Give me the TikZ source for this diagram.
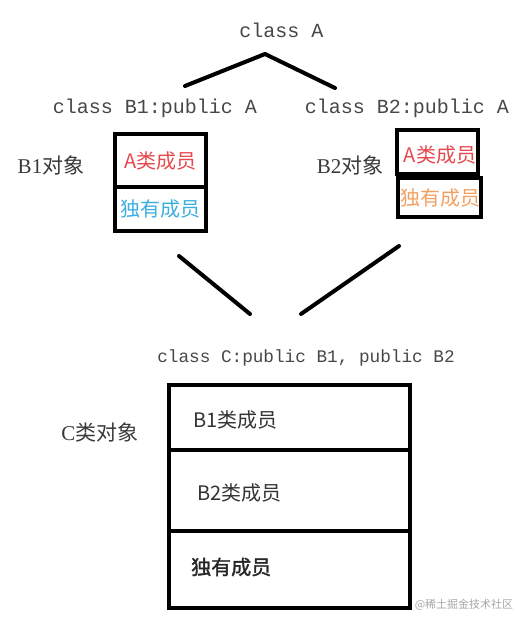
\documentclass[tikz,border=0pt]{standalone}
\usepackage{fontspec}
\setmainfont{Liberation Serif}
\setmonofont{Liberation Mono}
\newfontfamily\cjk{Noto Sans CJK SC}
\newfontfamily\cjkb[FakeBold=1.6]{Noto Sans CJK SC}
\definecolor{memred}{HTML}{E5484D}
\definecolor{memblue}{HTML}{3BAEDF}
\definecolor{memorange}{HTML}{F2A062}
\begin{document}
\begin{tikzpicture}[x=1pt,y=-1pt,line join=miter]
	\useasboundingbox (0,0)rectangle(515,617);
	\tikzset{
	cls/.style={font=\ttfamily\fontsize{20}{20}\selectfont,text=black!72},
	lbl/.style={font=\fontsize{21}{21}\selectfont,text=black!78},
	mem/.style={font=\fontsize{20}{20}\selectfont\cjk,inner sep=0pt},
	cell/.style={draw,line width=4pt,inner sep=0pt},
	lnk/.style={line width=4pt,line cap=round}
	}
	% class names
	\path(281.5,30)node[cls](A){class A}
	(155,108)node[cls](B1){class B1:public A}
	(407,108)node[cls](B2){class B2:public A}
	(306,358)node[cls,font=\ttfamily\fontsize{17.7}{17.7}\selectfont](C){class C:public B1, public B2};
	% B1 object
	\node[lbl] (B1obj) at (51,165) {B1{\cjk 对象}};
	\node[cell,minimum width=91,minimum height=53] (b1a) at (160.5,160.5) {};
	\node[cell,minimum width=91,minimum height=44] (b1b) at (160.5,209) {};
	\node[mem,text=memred] (b1at) at (b1a) {A类成员};
	\node[mem,text=memblue] (b1bt) at (b1b) {独有成员};
	% B2 object
	\node[lbl] (B2obj) at (350,165) {B2{\cjk 对象}};
	\node[cell,minimum width=81,minimum height=44] (b2a) at (437.5,152) {};
	\node[cell,minimum width=83,minimum height=39] (b2b) at (439.5,197.5) {};
	\node[mem,text=memred] (b2at) at (440,155) {A类成员};
	\node[mem,text=memorange] (b2bt) at (440,198) {独有成员};
	% C object
	\node[lbl] (Cobj) at (100,432) {C{\cjk 类对象}};
	\node[cell,minimum width=241,minimum height=65] (c1) at (289.5,417.5) {};
	\node[cell,minimum width=241,minimum height=81] (c2) at (289.5,490.5) {};
	\node[cell,minimum width=241,minimum height=77] (c3) at (289.5,569.5) {};
	\node[mem,anchor=west,text=black!80] (c1t) at ([xshift=26]c1.west|-0,420) {B1类成员};
	\node[mem,anchor=west,text=black!80] (c2t) at ([xshift=30]c2.west|-0,493) {B2类成员};
	\node[mem,anchor=west,text=black!85,font=\fontsize{20}{20}\selectfont\cjkb] (c3t) at ([xshift=24]c3.west|-0,567) {独有成员};
	% inheritance lines
	\coordinate (apex) at (265,54);
	\coordinate (aL) at (185,86);
	\coordinate (aR) at (335,88);
	\coordinate (bL) at (179,256);
	\coordinate (cL) at (250,314);
	\coordinate (bR) at (399,246);
	\coordinate (cR) at (301,314);
	\draw[lnk](aL)--(apex)--(aR);
	\draw[lnk](bL)--(cL);
	\draw[lnk](bR)--(cR);
	% watermark
	\node[font=\fontsize{11}{11}\selectfont\cjk,text=black!35,inner sep=1pt] (wm) at (464,605) {@稀土掘金技术社区};
\end{tikzpicture}
\end{document}
